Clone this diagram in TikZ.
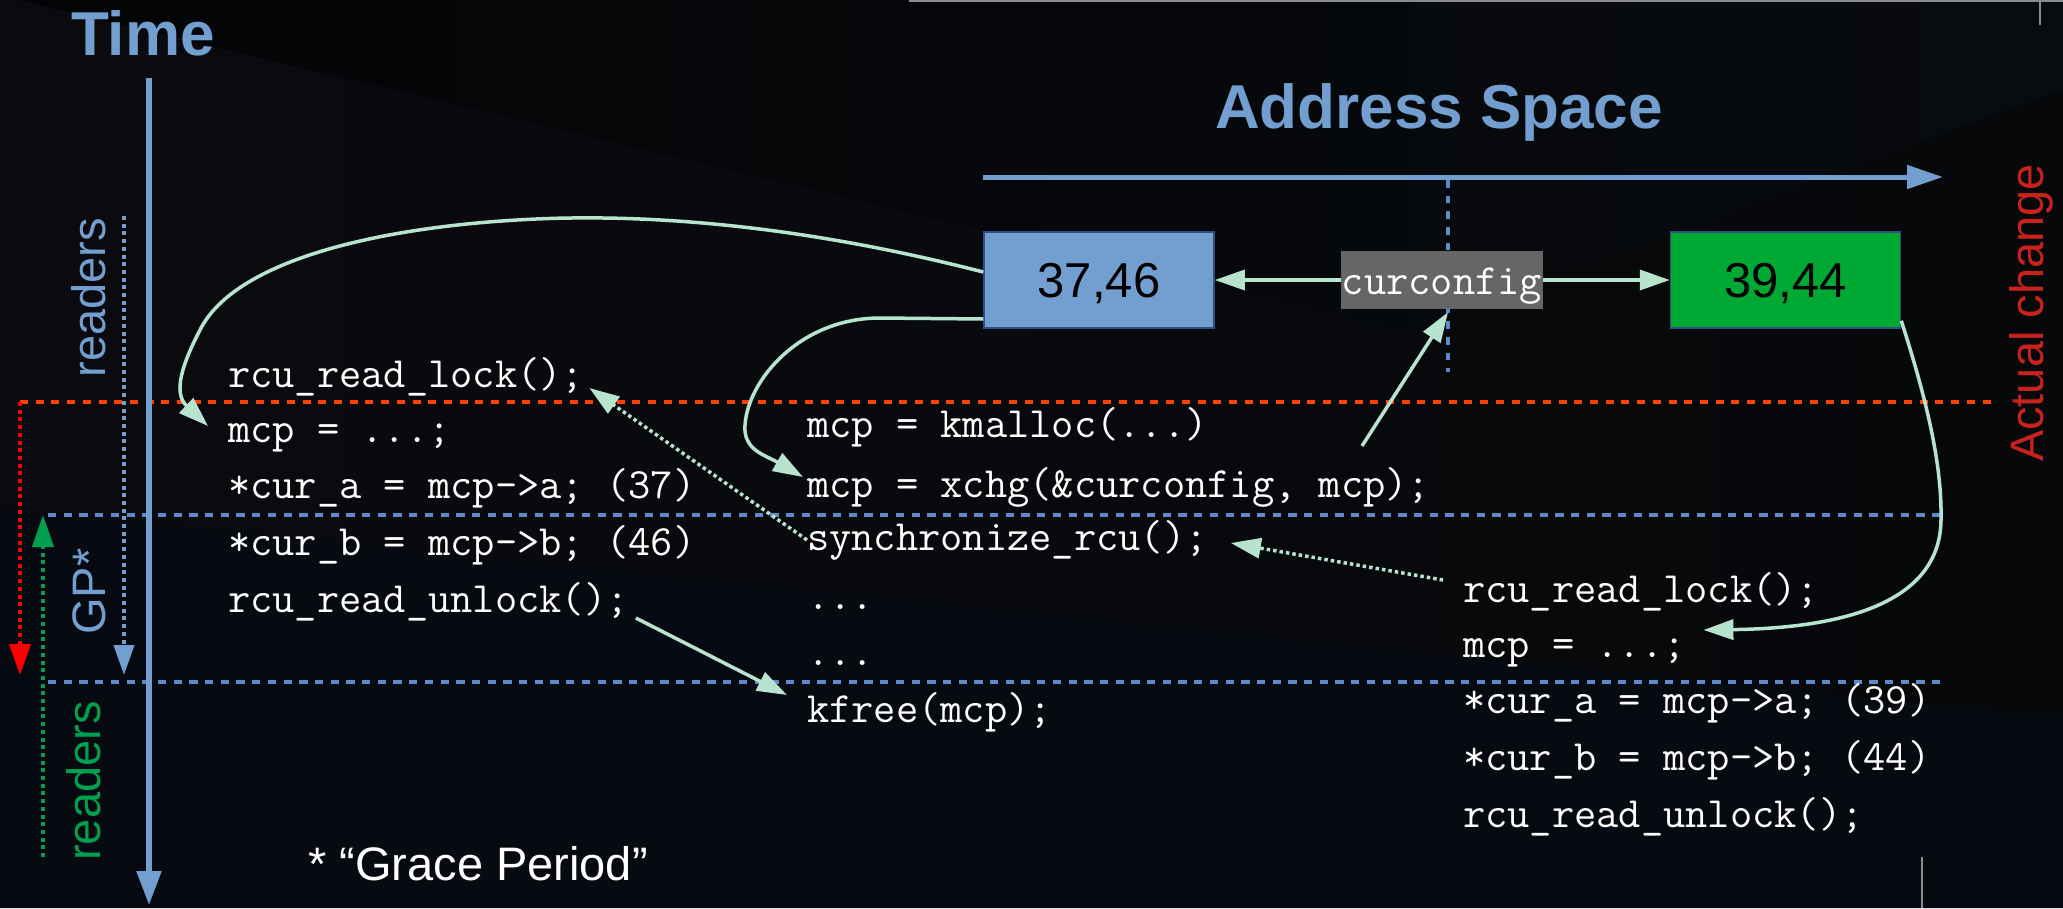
\documentclass[tikz,border=0pt]{standalone}
\usepackage{fontspec}
\setmainfont{Liberation Sans}
\usetikzlibrary{arrows.meta}
\definecolor{bgA}{HTML}{07090D}
\definecolor{bgL}{HTML}{0B0B0F}
\definecolor{bgK}{HTML}{030405}
\definecolor{bgR}{HTML}{06080A}
\definecolor{bgN}{HTML}{080B10}
\definecolor{bgB}{HTML}{070A10}
\definecolor{sky}{HTML}{729FCF}
\definecolor{dashblue}{HTML}{5B8BC9}
\definecolor{mint}{HTML}{B8E3CF}
\definecolor{boxgreen}{HTML}{00A933}
\definecolor{boxedge}{HTML}{2C4E80}
\definecolor{ccgray}{HTML}{666666}
\definecolor{gpgreen}{HTML}{00A050}
\definecolor{actred}{HTML}{C9211E}
\definecolor{orangered}{HTML}{FF4000}
\definecolor{pureRed}{HTML}{FF0000}
\definecolor{edgegray}{HTML}{8C8C8C}
\newcommand\rcucode{\fontsize{43.2}{50}\selectfont\ttfamily}
\begin{document}
\begin{tikzpicture}[x=1pt,y=-1pt,
  code/.style={text=white,font=\rcucode,inner sep=0pt,anchor=base west},
  membox/.style={draw=boxedge,line width=1.5pt,minimum width=230pt,minimum height=96pt,inner sep=0pt,font=\fontsize{49}{55}\selectfont,text=black,text depth=0pt},
  mintline/.style={draw=mint,line width=3.5pt},
  minttip/.style={-{Triangle[length=30pt,width=20pt]}},
  mintdots/.style={mintline,dash pattern=on 3.5pt off 3pt},
  dotv/.style={line width=4pt,dash pattern=on 4pt off 3.7pt},
  hdash/.style={draw=dashblue,line width=4pt,dash pattern=on 8.3pt off 7.4pt},
  sidelabel/.style={rotate=90,anchor=base,inner sep=0pt,font=\fontsize{47}{52}\selectfont},
]
\useasboundingbox (0,0) rectangle (2063,908);
% background
\fill[bgA] (0,0) rectangle (2063,908);
\shade[left color=bgK, middle color=bgN, right color=bgN] (17,0) -- (1400,330) -- (2063,90) -- (2063,0) -- cycle;
\shade[left color=bgL, middle color=bgK, right color=bgR] (0,0) -- (17,0) -- (1400,330) -- (2063,90) -- (2063,718) -- (0,507) -- cycle;
\fill[bgB] (0,507) -- (2063,718) -- (2063,908) -- (0,908) -- cycle;
\draw[edgegray,line width=1.5pt] (909,0.8) -- (2063,0.8);
\draw[edgegray,line width=1.2pt] (2040,0) -- (2040,25);
\draw[edgegray,line width=1.2pt] (1922,857) -- (1922,908);

% coordinates for free ends
\coordinate (ro) at (20,402);
\coordinate (re) at (1992,402);
\coordinate (rt) at (20,675);
\coordinate (bd0) at (124,216);
\coordinate (bd1) at (124,675);
\coordinate (gd0) at (43,857);
\coordinate (gd1) at (43,515);
\coordinate (h1a) at (48,515);
\coordinate (h1b) at (1943,515);
\coordinate (h2a) at (48,682);
\coordinate (h2b) at (1943,682);
\coordinate (t0) at (149,78);
\coordinate (t1) at (149,905);
\coordinate (a0) at (983,177);
\coordinate (a1) at (1943,177);
\coordinate (v0) at (1448,180);
\coordinate (v1) at (1448,372);

% guide lines
\draw[hdash] (h1a) -- (h1b);
\draw[hdash] (h2a) -- (h2b);
\draw[orangered,line width=4pt,dash pattern=on 8pt off 7.7pt] (ro) -- (re);
\draw[pureRed,dotv,-{Triangle[length=31pt,width=21pt]}] (ro) -- (rt);
\draw[sky,dotv,-{Triangle[length=30pt,width=20pt]}] (bd0) -- (bd1);
\draw[gpgreen,dotv,-{Triangle[length=32pt,width=21pt]}] (gd0) -- (gd1);
\draw[sky,line width=5.5pt,-{Triangle[length=34pt,width=24pt]}] (t0) -- (t1);
\draw[sky,line width=5pt,-{Triangle[length=36pt,width=23pt]}] (a0) -- (a1);
\draw[dashblue,line width=3.5pt,dash pattern=on 7.5pt off 8.2pt] (v0) -- (v1);

% titles and labels
\node[anchor=base west,inner sep=0pt,text=sky,font=\fontsize{62}{70}\selectfont\bfseries] (time) at (71,55) {Time};
\node[anchor=base,inner sep=0pt,text=sky,font=\fontsize{62}{70}\selectfont\bfseries] (addr) at (1439,128) {Address Space};
\node[sidelabel,text=sky] (rdA) at (105,297.5) {readers};
\node[sidelabel,text=sky] (gpl) at (105,591.5) {GP*};
\node[sidelabel,text=gpgreen] (rdB) at (100,781) {readers};
\node[sidelabel,text=actred] (act) at (2043,313) {Actual change};
\node[anchor=base west,inner sep=0pt,text=white,font=\fontsize{47}{52}\selectfont] (gpn) at (308,880) {* “Grace Period”};

% memory boxes
\node[membox,fill=sky] (b1) at (1099,280) {37,46};
\node[membox,fill=boxgreen] (b2) at (1785.5,280) {39,44};
\node[fill=ccgray,text=white,font=\rcucode,inner sep=0pt,minimum width=202pt,text height=43pt,text depth=15pt,anchor=base] (cc) at (1442,294) {curconfig};

% code
\node[code] (L1) at (228,387) {rcu\_read\_lock();};
\node[code] (L2) at (228,442) {mcp = ...;};
\node[code] (L3) at (228,498) {*cur\_a = mcp->a; (37)};
\node[code] (L4) at (228,555) {*cur\_b = mcp->b; (46)};
\node[code] (L5) at (228,612) {rcu\_read\_unlock();};
\node[code] (M1) at (807,437) {mcp = kmalloc(...)};
\node[code] (M2) at (807,497) {mcp = xchg(\&curconfig, mcp);};
\node[code] (M3) at (807,550) {synchronize\_rcu();};
\node[code] (M4) at (807,609) {...};
\node[code] (M5) at (807,665) {...};
\node[code] (M6) at (807,722) {kfree(mcp);};
\node[code] (R1) at (1463,602) {rcu\_read\_lock();};
\node[code] (R2) at (1463,657) {mcp = ...;};
\node[code] (R3) at (1463,713) {*cur\_a = mcp->a; (39)};
\node[code] (R4) at (1463,770) {*cur\_b = mcp->b; (44)};
\node[code] (R5) at (1463,827) {rcu\_read\_unlock();};

% connectors
\draw[mintline,minttip] ([shift={(0,-8)}]b1.west) .. controls (800,225) and (650,214) .. (536,219) .. controls (380,226) and (235,260) .. (200,330) .. controls (178,372) and (175,395) .. ([shift={(-20,-16)}]L2.base west);
\draw[mintline,minttip] ([shift={(0,39)}]b1.west) -- (880,318) .. controls (800,318) and (748,380) .. (745,425) .. controls (743,450) and (765,455) .. ([shift={(-4,-20)}]M2.base west);
\draw[mintline,minttip] ([shift={(555,-51)}]M2.base west) -- ([shift={(6,3)}]cc.south);
\draw[mintline,minttip] (cc.west) -- (b1.east);
\draw[mintline,minttip] (cc.east) -- (b2.west);
\draw[mintdots,minttip] ([shift={(0,-10)}]M3.base west) -- ([shift={(5,1)}]L1.base east);
\draw[mintdots,minttip] ([shift={(-20,-22)}]R1.base west) -- ([shift={(23,-7)}]M3.base east);
\draw[mintline,minttip] ([shift={(7,6)}]L5.base east) -- ([shift={(-20,-27)}]M6.base west);
\draw[mintline,minttip] ([shift={(0,-8)}]b2.south east) .. controls (1930,410) and (1942,470) .. (1941,520) .. controls (1940,600) and (1850,628) .. ([shift={(17.5,-27)}]R2.base east);
\end{tikzpicture}
\end{document}
